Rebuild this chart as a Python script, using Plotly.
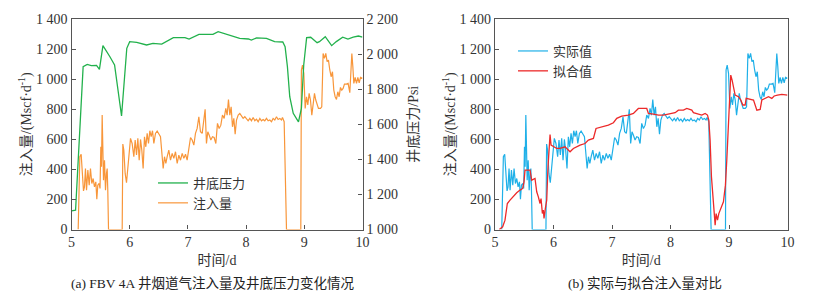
import plotly.graph_objects as go

# ---------------- data ----------------
# Well bottom pressure (Psi), left panel right axis
pres_t = [5.0, 5.07, 5.2, 5.27, 5.34, 5.43, 5.48, 5.54, 5.66, 5.74, 5.86, 5.95, 6.0, 6.12, 6.29, 6.40,
          6.55, 6.75, 6.95, 7.02, 7.19, 7.43, 7.52, 7.66, 7.89, 8.04, 8.09, 8.18, 8.35, 8.49, 8.63,
          8.67, 8.71, 8.75, 8.81, 8.90, 8.95, 8.99, 9.04, 9.11, 9.22, 9.26, 9.36, 9.47, 9.55, 9.66,
          9.75, 9.84, 9.93, 10.0]
pres_v = [1106, 1110, 1928, 1941, 1934, 1936, 1913, 2048, 1985, 1938, 1647, 2033, 2071, 2067, 2052, 2061,
          2057, 2094, 2094, 2086, 2112, 2112, 2128, 2112, 2090, 2086, 2080, 2092, 2090, 2071, 2069,
          2042, 1928, 1757, 1662, 1614, 1690, 1938, 2094, 2096, 2065, 2071, 2099, 2048, 2071, 2096,
          2086, 2096, 2103, 2096]

# Actual injection rate (Mscf/d)
inj_t = [5.115, 5.143, 5.166, 5.189, 5.206, 5.223, 5.24, 5.258, 5.281, 5.304, 5.326, 5.349, 5.372, 5.395,
         5.418, 5.435, 5.452, 5.475, 5.49, 5.504, 5.515, 5.527, 5.538, 5.55, 5.567, 5.584, 5.601, 5.613,
         5.624, 5.636, 5.871, 5.882, 5.899, 5.922, 5.945, 5.968, 5.991, 6.014, 6.042, 6.071, 6.094, 6.117,
         6.14, 6.163, 6.186, 6.208, 6.231, 6.254, 6.277, 6.30, 6.323, 6.346, 6.369, 6.392, 6.415, 6.443,
         6.472, 6.501, 6.529, 6.558, 6.575, 6.598, 6.621, 6.644, 6.672, 6.701, 6.73, 6.758, 6.787, 6.816,
         6.844, 6.873, 6.902, 6.93, 6.959, 6.987, 7.016, 7.045, 7.073, 7.102, 7.13, 7.159, 7.188, 7.216,
         7.245, 7.273, 7.296, 7.319, 7.342, 7.365, 7.394, 7.422, 7.451, 7.48, 7.508, 7.537, 7.566, 7.594,
         7.623, 7.651, 7.674, 7.697, 7.72, 7.743, 7.766, 7.789, 7.812, 7.835, 7.864, 7.892, 7.921, 7.949,
         7.978, 8.007, 8.035, 8.064, 8.092, 8.121, 8.15, 8.178, 8.207, 8.236, 8.264, 8.293, 8.321, 8.35,
         8.379, 8.407, 8.436, 8.464, 8.493, 8.522, 8.55, 8.579, 8.607, 8.625, 8.642, 8.654, 8.694, 8.94,
         8.95, 8.969, 8.992, 9.015, 9.038, 9.06, 9.083, 9.106, 9.129, 9.152, 9.175, 9.197, 9.22, 9.243,
         9.278, 9.30, 9.312, 9.323, 9.346, 9.369, 9.392, 9.415, 9.438, 9.461, 9.484, 9.507, 9.53, 9.553,
         9.576, 9.599, 9.621, 9.644, 9.667, 9.69, 9.724, 9.753, 9.782, 9.799, 9.817, 9.834, 9.851, 9.874,
         9.897, 9.92, 9.943, 9.966, 10.0]
inj_v = [0, 484, 501, 373, 257, 284, 406, 262, 395, 295, 406, 306, 339, 284,
         317, 202, 295, 306, 273, 550, 417, 761, 595, 328, 461, 262, 373, 406,
         251, 0, 0, 568, 528, 373, 311, 417, 528, 606, 572, 484, 595, 495,
         606, 461, 599, 528, 406, 617, 550, 639, 572, 657, 617, 657, 572, 639,
         655, 639, 617, 484, 406, 484, 439, 484, 528, 461, 506, 473, 517, 439,
         495, 461, 506, 473, 501, 461, 528, 612, 595, 561, 639, 672, 750, 650,
         639, 739, 799, 572, 650, 628, 595, 617, 612, 572, 706, 672, 694, 761,
         739, 805, 761, 865, 761, 816, 683, 739, 634, 728, 761, 772, 750, 739,
         750, 734, 723, 739, 723, 745, 723, 734, 717, 739, 723, 732, 723, 739,
         723, 728, 717, 739, 728, 750, 732, 739, 728, 745, 728, 717, 0, 0,
         1061, 1094, 1038, 805, 883, 828, 905, 861, 761, 850, 905, 861, 828, 805,
         805, 816, 994, 1171, 1138, 1171, 1116, 1127, 1061, 1016, 1049, 927, 883, 865,
         916, 883, 945, 927, 938, 967, 967, 972, 910, 1083, 1171, 1083, 972, 1012,
         972, 1012, 976, 1012, 1005]

# Fitted injection rate (Mscf/d)
fit_t = [5.074, 5.131, 5.171, 5.211, 5.257, 5.314, 5.371, 5.428, 5.473, 5.496, 5.513, 5.599, 5.627, 5.684,
         5.713, 5.741, 5.77, 5.787, 5.81, 5.827, 5.838, 5.861, 5.884, 5.906, 5.924, 5.941, 5.958, 5.998,
         6.055, 6.112, 6.197, 6.283, 6.34, 6.454, 6.539, 6.596, 6.682, 6.727, 6.824, 6.938, 7.024, 7.081,
         7.166, 7.28, 7.366, 7.451, 7.594, 7.622, 7.708, 7.794, 7.879, 7.993, 8.079, 8.135, 8.221, 8.278,
         8.364, 8.392, 8.478, 8.535, 8.592, 8.632, 8.655, 8.677, 8.70, 8.723, 8.746, 8.763, 8.78, 8.803,
         8.826, 8.848, 8.877, 8.905, 8.922, 8.939, 8.962, 8.985, 9.008, 9.03, 9.053, 9.076, 9.105, 9.162,
         9.202, 9.236, 9.276, 9.293, 9.362, 9.419, 9.476, 9.533, 9.561, 9.618, 9.675, 9.732, 9.772, 9.829,
         9.903, 10.0]
fit_v = [0, 18, 62, 173, 195, 222, 244, 262, 273, 317, 395, 395, 328, 339,
         251, 217, 173, 206, 106, 129, 73, 140, 195, 417, 528, 632, 561, 550,
         539, 539, 550, 517, 539, 561, 572, 595, 606, 672, 683, 694, 710, 739,
         754, 761, 772, 805, 805, 772, 768, 761, 761, 768, 777, 794, 794, 805,
         794, 777, 768, 761, 772, 761, 728, 595, 351, 240, 151, 29, 106, 62,
         106, 129, 151, 184, 240, 295, 461, 683, 916, 1027, 994, 938, 894, 883,
         861, 828, 828, 872, 866, 861, 794, 799, 861, 872, 883, 872, 888, 894,
         899, 894]

# ---------------- style ----------------
GREEN = "#22b14c"
ORANGE = "#f8963a"
BLUE = "#1fb0e8"
RED = "#ec2a2a"
AX = "#555555"
TXT = "#333333"
SERIF = "Liberation Serif"
CJK = "Noto Sans CJK SC"
MIX = SERIF + ", " + CJK

fig = go.Figure()
fig.add_trace(go.Scatter(x=pres_t, y=pres_v, mode="lines", name="井底压力",
                         line=dict(color=GREEN, width=1.3), xaxis="x", yaxis="y2", legend="legend"))
fig.add_trace(go.Scatter(x=inj_t, y=inj_v, mode="lines", name="注入量",
                         line=dict(color=ORANGE, width=1.2), xaxis="x", yaxis="y", legend="legend"))
fig.add_trace(go.Scatter(x=inj_t, y=inj_v, mode="lines", name="实际值",
                         line=dict(color=BLUE, width=1.2), xaxis="x2", yaxis="y3", legend="legend2"))
fig.add_trace(go.Scatter(x=fit_t, y=fit_v, mode="lines", name="拟合值",
                         line=dict(color=RED, width=1.3), xaxis="x2", yaxis="y3", legend="legend2"))

ydom = [1 - 229.5 / 299, 1 - 19 / 299]
tickfont = dict(family=SERIF, size=14, color=TXT)
titlefont = dict(family=MIX, size=14, color=TXT)

common_x = dict(range=[5, 10], dtick=1, tick0=5, ticks="inside", ticklen=4, tickcolor=AX,
                showline=True, linecolor=AX, linewidth=1.2, mirror=True, showgrid=False,
                zeroline=False, tickfont=tickfont, automargin=False)
common_y = dict(ticks="inside", ticklen=4, tickcolor=AX, showline=True, linecolor=AX, linewidth=1.2,
                showgrid=False, zeroline=False, tickfont=tickfont, tickformat=",d", automargin=False)

fig.update_layout(
    width=832, height=299,
    margin=dict(l=0, r=0, t=0, b=0, autoexpand=False),
    paper_bgcolor="white", plot_bgcolor="white",
    separators=". ",
    xaxis=dict(domain=[71.5 / 832, 362.5 / 832], anchor="y",
               title=dict(text="时间/d", font=titlefont, standoff=5), **common_x),
    yaxis=dict(domain=ydom, anchor="x", range=[0, 1400], dtick=200, mirror=False,
               title=dict(text="注入量/(Mscf·d<sup>-1</sup>)", font=titlefont, standoff=1), **common_y),
    yaxis2=dict(domain=ydom, anchor="x", overlaying="y", side="right", range=[1000, 2200], dtick=200,
                title=dict(text="井底压力/Psi", font=titlefont, standoff=11), **common_y),
    xaxis2=dict(domain=[495 / 832, 787.5 / 832], anchor="y3",
                title=dict(text="时间/d", font=titlefont, standoff=5), **common_x),
    yaxis3=dict(domain=ydom, anchor="x2", range=[0, 1400], dtick=200, mirror=True,
                title=dict(text="注入量/(Mscf·d<sup>-1</sup>)", font=titlefont, standoff=0), **common_y),
    legend=dict(x=153 / 832, y=1 - 168 / 299, xanchor="left", yanchor="top",
                font=dict(family=CJK, size=13, color=TXT), bgcolor="rgba(0,0,0,0)",
                itemwidth=30, tracegroupgap=0),
    legend2=dict(x=513 / 832, y=1 - 36 / 299, xanchor="left", yanchor="top",
                 font=dict(family=CJK, size=13, color=TXT), bgcolor="rgba(0,0,0,0)",
                 itemwidth=30, tracegroupgap=0),
    showlegend=True,
)

capfont = dict(family=MIX, size=13.5, color="#222222")
fig.add_annotation(text="(a) FBV 4A 井烟道气注入量及井底压力变化情况", x=213 / 832, y=1 - 283 / 299,
                   xref="paper", yref="paper", showarrow=False, font=capfont, xanchor="center", yanchor="middle")
fig.add_annotation(text="(b) 实际与拟合注入量对比", x=645 / 832, y=1 - 283 / 299,
                   xref="paper", yref="paper", showarrow=False, font=capfont, xanchor="center", yanchor="middle")

fig.write_html("out.html", config={"displayModeBar": False},
               post_script="document.body.style.margin='0px';")
